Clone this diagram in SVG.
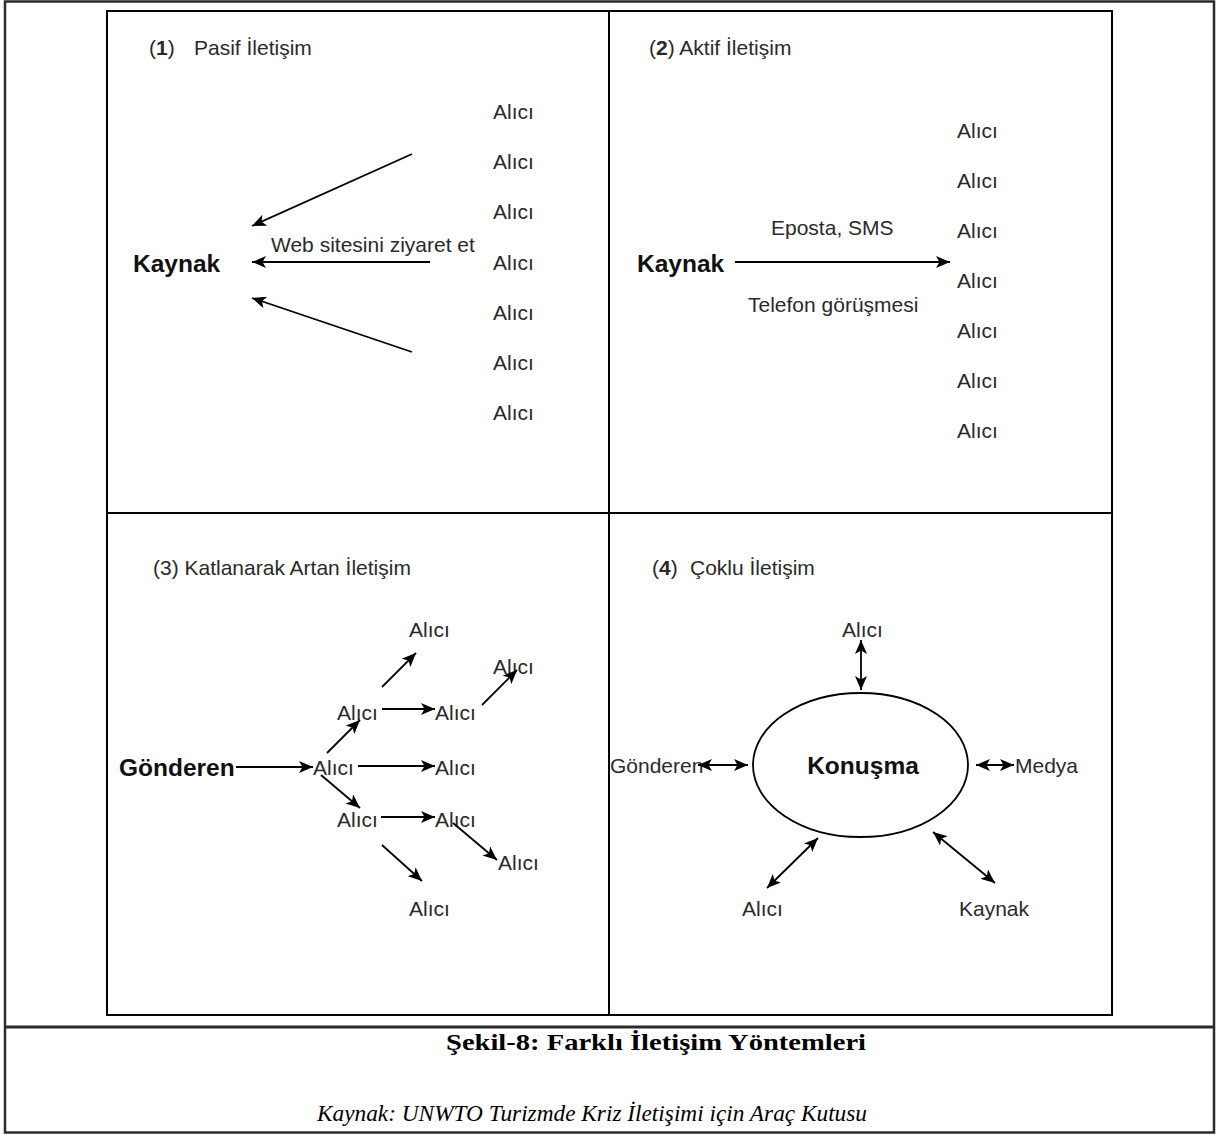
<svg xmlns="http://www.w3.org/2000/svg" width="1223" height="1135" viewBox="0 0 1223 1135">
  <defs>
    <marker id="arr" viewBox="0 0 14 12" refX="14" refY="6" markerWidth="14" markerHeight="12" markerUnits="userSpaceOnUse" orient="auto-start-reverse">
      <path d="M0,0 L14,6 L0,12 L3.5,6 Z" fill="#000"/>
    </marker>
    <style>
      .t { font-family: "Liberation Sans", Arial, sans-serif; font-size: 21px; fill: #2a2a2a; }
      .b { font-family: "Liberation Sans", Arial, sans-serif; font-size: 24.5px; font-weight: bold; fill: #111; }
      .num { font-weight: bold; }
      .ln { stroke: #000; stroke-width: 1.8; fill: none; marker-end: url(#arr); }
      .dbl { stroke: #000; stroke-width: 1.8; fill: none; marker-start: url(#arr); marker-end: url(#arr); }
      .frame { fill: none; stroke: #2b2b2b; stroke-width: 2.5; }
      .grid { fill: none; stroke: #000; stroke-width: 2; }
      .cap { font-family: "Liberation Serif", "Times New Roman", serif; font-size: 24px; fill: #000; }
    </style>
  </defs>

  <rect width="1223" height="1135" fill="#fff"/>

  <!-- outer table frame and caption row -->
  <g id="frame">
    <rect class="frame" x="5" y="1.5" width="1209" height="1131"/>
    <line x1="5" y1="1027" x2="1214" y2="1027" stroke="#2b2b2b" stroke-width="3"/>
  </g>

  <!-- four-quadrant grid -->
  <g id="grid">
    <rect class="grid" x="107" y="11" width="1005" height="1004"/>
    <line class="grid" x1="609" y1="11" x2="609" y2="1015"/>
    <line class="grid" x1="107" y1="513" x2="1112" y2="513"/>
  </g>

  <!-- quadrant titles -->
  <g id="titles">
    <text class="t" x="149" y="55">(<tspan class="num">1</tspan>)<tspan x="194">Pasif İletişim</tspan></text>
    <text class="t" x="649" y="55">(<tspan class="num">2</tspan>) Aktif İletişim</text>
    <text class="t" x="153" y="575">(3) Katlanarak Artan İletişim</text>
    <text class="t" x="652" y="575">(<tspan class="num">4</tspan>)<tspan x="690">Çoklu İletişim</tspan></text>
  </g>

  <!-- (1) passive communication -->
  <g id="q1-kaynak"><text class="b" x="133" y="272">Kaynak</text></g>
  <g id="q1-label"><text class="t" x="271" y="252">Web sitesini ziyaret et</text></g>
  <g id="q1-alicilar">
    <text class="t" x="493" y="119">Alıcı</text>
    <text class="t" x="493" y="169">Alıcı</text>
    <text class="t" x="493" y="219">Alıcı</text>
    <text class="t" x="493" y="270">Alıcı</text>
    <text class="t" x="493" y="320">Alıcı</text>
    <text class="t" x="493" y="370">Alıcı</text>
    <text class="t" x="493" y="420">Alıcı</text>
  </g>

  <!-- (2) active communication -->
  <g id="q2-kaynak"><text class="b" x="637" y="272">Kaynak</text></g>
  <g id="q2-labels">
    <text class="t" x="771" y="235">Eposta, SMS</text>
    <text class="t" x="748" y="312">Telefon görüşmesi</text>
  </g>
  <g id="q2-alicilar">
    <text class="t" x="957" y="138">Alıcı</text>
    <text class="t" x="957" y="188">Alıcı</text>
    <text class="t" x="957" y="238">Alıcı</text>
    <text class="t" x="957" y="288">Alıcı</text>
    <text class="t" x="957" y="338">Alıcı</text>
    <text class="t" x="957" y="388">Alıcı</text>
    <text class="t" x="957" y="438">Alıcı</text>
  </g>

  <!-- (3) cascading communication -->
  <g id="q3-gonderen"><text class="b" x="119" y="776">Gönderen</text></g>
  <g id="q3-alicilar">
    <text class="t" x="409" y="637">Alıcı</text>
    <text class="t" x="493" y="674">Alıcı</text>
    <text class="t" x="337" y="720">Alıcı</text>
    <text class="t" x="435" y="720">Alıcı</text>
    <text class="t" x="313" y="775">Alıcı</text>
    <text class="t" x="435" y="775">Alıcı</text>
    <text class="t" x="337" y="827">Alıcı</text>
    <text class="t" x="435" y="827">Alıcı</text>
    <text class="t" x="498" y="870">Alıcı</text>
    <text class="t" x="409" y="916">Alıcı</text>
  </g>

  <!-- (4) multi-way communication -->
  <g id="q4-konusma">
    <ellipse cx="860.5" cy="765" rx="107.5" ry="72" fill="#fff" stroke="#000" stroke-width="1.8"/>
    <text class="b" x="863" y="774" text-anchor="middle">Konuşma</text>
  </g>
  <g id="q4-alici-top"><text class="t" x="842" y="637">Alıcı</text></g>
  <g id="q4-gonderen"><text class="t" x="610" y="773">Gönderen</text></g>
  <g id="q4-medya"><text class="t" x="1015" y="773">Medya</text></g>
  <g id="q4-alici-bottom"><text class="t" x="742" y="916">Alıcı</text></g>
  <g id="q4-kaynak"><text class="t" x="959" y="916">Kaynak</text></g>

  <!-- connectors -->
  <g id="connectors">
    <!-- (1) -->
    <line class="ln" x1="412" y1="154" x2="252" y2="226"/>
    <line class="ln" x1="430" y1="262" x2="252" y2="262"/>
    <line class="ln" x1="412" y1="352" x2="252" y2="298"/>
    <!-- (2) -->
    <line class="ln" x1="735" y1="262" x2="950" y2="262"/>
    <!-- (3) -->
    <line class="ln" x1="236" y1="767" x2="313" y2="767"/>
    <line class="ln" x1="358" y1="766" x2="435" y2="766"/>
    <line class="ln" x1="327" y1="753" x2="360" y2="720"/>
    <line class="ln" x1="382" y1="709" x2="435" y2="709"/>
    <line class="ln" x1="382" y1="687" x2="416" y2="653"/>
    <line class="ln" x1="482" y1="705" x2="517" y2="670"/>
    <line class="ln" x1="321" y1="775" x2="360" y2="808"/>
    <line class="ln" x1="381" y1="817" x2="435" y2="817"/>
    <line class="ln" x1="453" y1="823" x2="497" y2="860"/>
    <line class="ln" x1="382" y1="845" x2="422" y2="881"/>
    <!-- (4) -->
    <line class="dbl" x1="861" y1="640" x2="861" y2="690"/>
    <line class="dbl" x1="698" y1="765" x2="748" y2="765"/>
    <line class="dbl" x1="976" y1="765" x2="1014" y2="765"/>
    <line class="dbl" x1="767" y1="888" x2="818" y2="838"/>
    <line class="dbl" x1="933" y1="832" x2="995" y2="883"/>
  </g>

  <!-- caption -->
  <g id="caption">
    <text class="cap" x="446" y="1050" font-weight="bold" textLength="420" lengthAdjust="spacingAndGlyphs">Şekil-8: Farklı İletişim Yöntemleri</text>
    <text class="cap" x="317" y="1121" font-style="italic" textLength="550" lengthAdjust="spacingAndGlyphs">Kaynak: UNWTO Turizmde Kriz İletişimi için Araç Kutusu</text>
  </g>
</svg>
